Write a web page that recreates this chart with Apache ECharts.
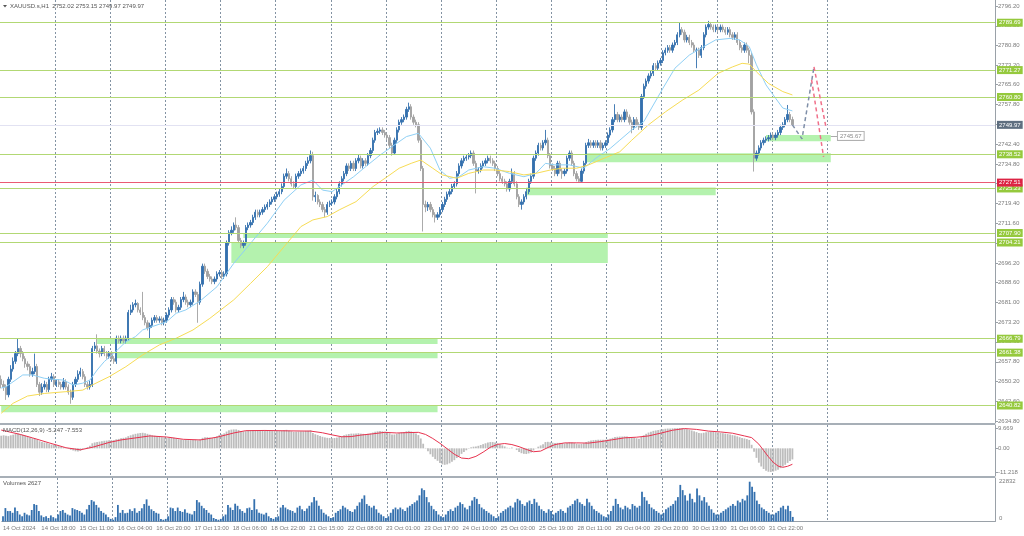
<!DOCTYPE html>
<html><head><meta charset="utf-8">
<script src="https://cdn.jsdelivr.net/npm/echarts@6/dist/echarts.min.js"></script>
<style>html,body{margin:0;padding:0;background:#fff;}#c{width:1024px;height:536px;}</style>
</head><body><div id="c"></div>
<script>
// ---------- DATA ----------
const timeLabels = ['14 Oct 2024','14 Oct 18:00','15 Oct 11:00','16 Oct 04:00','16 Oct 20:00','17 Oct 13:00','18 Oct 06:00','18 Oct 22:00','21 Oct 15:00','22 Oct 08:00','23 Oct 01:00','23 Oct 17:00','24 Oct 10:00','25 Oct 03:00','25 Oct 19:00','28 Oct 11:00','29 Oct 04:00','29 Oct 20:00','30 Oct 13:00','31 Oct 06:00','31 Oct 22:00'];
const priceTicks = [2796.2,2788.5,2780.8,2773.2,2765.6,2757.8,2750.2,2742.4,2734.8,2727.2,2719.4,2711.6,2704.0,2696.2,2688.6,2681.0,2673.2,2665.6,2657.8,2650.2,2642.6,2634.8];
const macdTicks = [9.669, 0, -11.218];
const macdTickText = ['9.669','0.00','-11.218'];
const volTicks = [22832, 0];
// [open, close, low, high]
const ohlc = [
[2651,2649,2647.5,2652.5],[2649,2648,2646.5,2650.5],[2648,2645,2643,2649],[2645,2651,2644,2652],[2651,2655,2650,2656.5],
[2655,2658,2654,2659.5],[2658,2661,2657,2662],[2661,2663,2660,2666.7],[2663,2661,2659.5,2664],[2661,2659,2658,2662],
[2659,2657,2655.5,2660],[2657,2656,2654.5,2658],[2656,2653,2652,2657],[2653,2654,2652,2655.5],[2654,2656,2653,2661],
[2656,2649,2648,2657],[2649,2646,2644.5,2650],[2646,2648,2645,2649.5],[2648,2649,2647,2650.5],[2649,2647,2646,2650],
[2647,2651,2646,2652],[2651,2652,2650,2653.5],[2652,2649,2648,2653],[2649,2650,2648,2651],[2650,2649,2648,2651],
[2649,2648,2647,2650],[2648,2650,2647,2651.5],[2650,2648,2647,2651],[2648,2646,2645,2649],[2646,2644,2641.5,2647],
[2644,2649,2643,2650],[2649,2651,2648,2652],[2651,2653,2650,2654.5],[2653,2654,2652,2655.5],[2654,2652,2651,2655],
[2652,2649,2648,2653],[2649,2648,2647,2650],[2648,2649,2647,2650.5],[2649,2663,2648,2664],[2663,2664,2662,2665.5],
[2664,2662,2661,2668.5],[2662,2661,2659.5,2663],[2661,2663,2660,2664],[2663,2661,2660,2664],[2661,2660,2659,2662],
[2660,2661,2659,2662],[2661,2659,2658,2662],[2659,2658,2657,2660],[2658,2667,2657,2668],[2667,2666,2665,2668],
[2666,2667,2665,2668],[2667,2666,2665,2668],[2666,2667,2665,2668],[2667,2677,2666,2678],[2677,2678,2676,2680],
[2678,2680,2677,2681],[2680,2680.5,2679,2682],[2680.5,2678,2677,2681],[2678,2677,2676,2679],[2677,2675,2674,2685],
[2675,2673,2672,2676],[2673,2671,2670,2674],[2671,2672,2666.7,2673],[2672,2674,2671,2675],[2674,2675,2673,2676],
[2675,2674,2673,2676],[2674,2674.5,2673,2675.5],[2674.5,2673,2672,2675.5],[2673,2674,2672,2675],[2674,2676,2673,2677],
[2676,2678,2675,2679],[2678,2682,2677,2683],[2682,2681,2680,2683],[2681,2678,2677,2682],[2678,2679,2677,2680],
[2679,2682,2678,2683],[2682,2683,2681,2685],[2683,2681,2680,2684],[2681,2680,2679,2682],[2680,2681,2679,2682],
[2681,2685,2680,2686],[2685,2684,2683,2686],[2684,2681,2673,2685],[2681,2688,2680,2689],[2688,2695,2687,2696],
[2695,2693,2692,2696],[2693,2691,2690,2694],[2691,2690,2689,2692],[2690,2689,2688,2691],[2689,2690,2688,2691],
[2690,2692,2689,2693],[2692,2692.5,2691,2693.5],[2692.5,2691,2690,2693.5],[2691,2692,2690,2693],[2692,2704,2691,2705],
[2704,2708,2703,2709],[2708,2709,2707,2710.5],[2709,2711,2708,2712],[2711,2710,2709,2714],[2710,2705,2704,2711],
[2705,2703,2702,2706],[2703,2704,2702,2705],[2704,2710,2703,2711],[2710,2711,2709,2712],[2711,2712,2710,2713],
[2712,2714,2711,2715],[2714,2716,2713,2717],[2716,2715,2714,2717],[2715,2716,2714,2717],[2716,2717,2715,2718],
[2717,2718,2716,2719],[2718,2719,2717,2720],[2719,2720,2718,2721],[2720,2721,2719,2722],[2721,2722,2720,2723],
[2722,2723,2721,2724],[2723,2724,2722,2725],[2724,2726,2723,2727.2],[2726,2730,2725,2731],[2730,2731,2729,2733],
[2731,2729,2728,2732],[2729,2727,2726,2730],[2727,2726,2725,2728],[2726,2730,2725,2731],[2730,2731,2729,2732],
[2731,2732,2730,2733],[2732,2733,2731,2734],[2733,2735,2732,2736],[2735,2736,2734,2737.5],[2736,2738,2735,2740],
[2738,2722,2720.5,2739.5],[2722,2722.5,2720,2724],[2722.5,2720,2719,2723],[2720,2719,2718,2721],[2719,2717,2716,2720],
[2717,2716,2714,2718],[2716,2719,2715,2720],[2719,2719.5,2718,2720.5],[2719.5,2720,2718.5,2721],[2720,2722,2719,2723],
[2722,2724,2721,2725],[2724,2727,2723,2728],[2727,2729,2726,2730],[2729,2731,2728,2732],[2731,2734,2730,2735],
[2734,2733,2732,2735],[2733,2735,2732,2736],[2735,2733,2732,2736],[2733,2736,2732,2737],[2736,2737,2735,2738.5],
[2737,2734,2733,2738],[2734,2736,2733,2737],[2736,2735,2734,2737],[2735,2738,2734,2739],[2738,2740,2737,2741],
[2740,2744,2739,2745],[2744,2747,2743,2748],[2747,2747.5,2746,2748.6],[2747.5,2748,2746.5,2749],[2748,2747,2746,2749],
[2747,2746,2745,2748],[2746,2745,2744,2747],[2745,2742,2741,2746],[2742,2739,2738,2743],[2739,2744,2738.5,2745],
[2744,2748,2743,2749],[2748,2751,2747,2752],[2751,2752,2750,2753],[2752,2753,2751,2754],[2753,2756,2752,2757],
[2756,2757,2755,2758.6],[2757,2753,2752,2758],[2753,2751,2750,2754],[2751,2750,2749,2752],[2750,2744,2743,2751],
[2744,2733,2732,2745],[2733,2719,2708.5,2734],[2719,2718,2716,2720.5],[2718,2719,2716.5,2720],[2719,2717,2716,2720],
[2717,2715,2714,2718],[2715,2714,2712,2716],[2714,2715,2713,2716],[2715,2717,2714,2718],[2717,2719,2716,2720],
[2719,2721,2718,2722],[2721,2723,2720,2724],[2723,2724,2722,2725],[2724,2726,2723,2727],[2726,2727,2725,2728],
[2727,2731,2726,2732],[2731,2734,2730,2735],[2734,2736,2733,2737],[2736,2737,2735,2738],[2737,2737.5,2736,2738.5],
[2737.5,2738,2736.5,2739],[2738,2739,2737,2740],[2739,2735,2734,2740],[2735,2732,2723.3,2736],[2732,2732.5,2731,2733.5],
[2732.5,2734,2731.5,2735],[2734,2735,2733,2736],[2735,2736,2734,2737],[2736,2737,2735,2738],[2737,2736,2735,2738],
[2736,2735,2734,2737],[2735,2733,2732,2736],[2733,2731,2730,2734],[2731,2729,2728,2732],[2729,2728,2727,2730],
[2728,2727,2726,2729],[2727,2725,2724,2728],[2725,2728,2724,2729],[2728,2731,2727,2733],[2731,2727,2726,2732],
[2727,2722,2721,2728],[2722,2719,2718,2723],[2719,2720,2717,2721],[2720,2722,2719,2723],[2722,2724,2721,2725],
[2724,2728,2723,2729],[2728,2730,2727,2731],[2730,2737,2729,2738],[2737,2739,2736,2740],[2739,2742,2738,2743],
[2742,2741,2740,2743],[2741,2743,2740,2744],[2743,2744,2742,2748],[2744,2738,2737,2745],[2738,2734,2733,2739],
[2734,2733,2732,2735],[2733,2731,2730,2734],[2731,2735,2730,2736],[2735,2732,2731,2736],[2732,2731,2729,2733],
[2731,2732,2730,2733],[2732,2737,2731,2738],[2737,2739,2736,2740],[2739,2735,2734,2740],[2735,2731,2730,2736],
[2731,2729,2728,2732],[2729,2728,2727.5,2730],[2728,2732,2727.5,2733],[2732,2735,2731,2736],[2735,2742,2734,2743],
[2742,2743,2741,2744.5],[2743,2742,2741,2744],[2742,2743,2741,2744],[2743,2742,2741,2744],[2742,2743,2741,2744],
[2743,2741,2740,2744],[2741,2742,2740,2743],[2742,2743,2741,2744],[2743,2746,2742,2747],[2746,2748,2745,2749],
[2748,2752,2747,2753],[2752,2754,2751,2758],[2754,2752,2751,2755],[2752,2753,2751,2754],[2753,2752,2751,2754],
[2752,2755,2751,2756],[2755,2753,2752,2756],[2753,2751,2750,2754],[2751,2749,2746.7,2752],[2749,2752,2748,2753],
[2752,2750,2749,2753],[2750,2749,2748,2751],[2749,2761,2748,2762],[2761,2765,2760,2766],[2765,2767,2764,2768],
[2767,2769,2766,2770],[2769,2770,2768,2771],[2770,2773,2769,2774],[2773,2772,2771,2774],[2772,2774,2771,2775],
[2774,2775,2773,2776],[2775,2778,2774,2779],[2778,2779,2777,2780],[2779,2780,2778,2781],[2780,2779,2778,2781],
[2779,2781,2778,2782],[2781,2782,2780,2783],[2782,2785,2781,2786],[2785,2787,2784,2789.8],[2787,2786,2785,2788],
[2786,2783,2782,2787],[2783,2784,2782,2785],[2784,2782,2781,2785],[2782,2781,2780,2783],[2781,2779,2778,2782],
[2779,2779,2772,2780],[2779,2777,2776,2780],[2777,2780,2776,2781],[2780,2785,2779,2786],[2785,2788,2784,2789],
[2788,2789,2787,2790.4],[2789,2788,2787,2790],[2788,2787,2786,2789],[2787,2788,2786,2789],[2788,2787,2786,2789],
[2787,2788,2786,2789],[2788,2787,2786,2789],[2787,2786,2785,2788],[2786,2787,2785,2788],[2787,2785,2784,2788],
[2785,2784,2783,2786],[2784,2785,2783,2786],[2785,2782,2781,2786],[2782,2780,2779,2783],[2780,2779,2778,2781],
[2779,2781,2778,2782],[2781,2779,2778,2782],[2779,2777,2774,2780],[2777,2755,2754,2778],[2755,2737,2731.8,2756],
[2737,2739,2736,2740],[2739,2741,2738,2742],[2741,2743,2740,2744],[2743,2744,2742,2745],[2744,2744.5,2743,2745.5],
[2744.5,2745,2743.5,2746],[2745,2746,2744,2747],[2746,2745,2744,2747],[2745,2746,2744,2747],[2746,2747,2745,2748],
[2747,2749,2746,2750],[2749,2750,2748,2751],[2750,2752,2749,2753],[2752,2754,2751,2757.7],[2754,2752.02,2751,2755],
[2752.02,2749.97,2749.97,2753.15]
];
const volumes = [
3000,7700,6000,6000,5000,8100,6000,4000,3000,5000,4000,3500,6600,10000,9500,6000,3500,2500,3000,2000,3500,2500,1800,
4000,6000,6600,5000,4000,3500,7700,7000,6600,6000,5000,4000,7000,9500,12300,11500,9500,8000,6000,5000,4000,2500,1500,
1000,2500,9500,5000,6600,4700,5000,7000,6000,7600,5000,6000,7600,10000,12700,9000,7000,6000,5000,4500,1500,1000,1500,
3000,8000,7600,6000,8000,6000,5500,7000,5000,4500,4000,6000,12300,11000,9000,7600,6600,5000,4000,2000,1500,1000,1500,
3000,4000,9500,8000,6600,10200,9000,7000,6000,5000,7600,8000,6600,12800,7000,5000,4500,4000,5000,3000,2000,1500,2500,
3000,8000,9500,8000,7000,6500,6000,5000,8000,9000,7000,6000,7500,9000,11000,14000,12000,9000,7000,5000,4000,3000,2000,
2500,5000,6000,7000,9000,8000,7000,6000,5500,7000,9000,11000,13000,15000,10000,9000,8000,9000,7000,5000,4000,3000,2000,
3000,5000,7000,8000,7000,8000,7000,6000,8000,9000,10000,11000,12000,15000,19000,18000,14000,11000,9000,7000,6000,4000,3000,
2500,4000,6000,7000,6000,8000,9000,11000,10000,8000,7000,9000,12000,14000,13000,10000,8000,7000,6000,5000,4000,3000,2000,
3000,5000,6000,7000,8000,9000,8000,11000,13000,12000,10000,9000,11000,12000,10000,13000,11000,9000,7000,6000,5000,7000,6000,
4000,5000,6000,7000,6000,5000,8000,9000,10000,12000,13000,11000,10000,9000,13000,11000,9000,7000,6000,5000,4000,3000,2500,
4000,6000,9000,13000,10000,8000,7000,9000,8000,7000,10000,9000,8000,9000,17000,14000,12000,10000,8000,7000,6000,5000,4000,
5000,7000,8000,9000,10000,12000,14000,21000,18000,15000,12000,16000,13000,11000,19000,15000,12000,14000,11000,9000,7000,5000,4000,
4000,5000,6000,7000,8000,9000,10000,9000,12000,11000,13000,12000,15000,22832,20000,17000,12000,10000,8000,7000,6000,5000,4000,
4000,5000,6000,8000,9000,7000,9000,6000,2627
];
const macdHist = [
6.0,6.2,6.0,5.8, 6.2,6.5,6.8,7.0,6.8,6.4,6.0,5.6,5.2, 4.8,4.6,4.0,3.4,3.0,2.8,2.6,2.2,
1.8,1.6,1.3,1.0,0.8,0.5,0.2, -0.3,-0.7,-1.0,-1.4,-1.5,-1.2, -0.3,0.2,0.6,1.2, 2.4,2.8,3.0,3.2,
3.4,3.6,3.7,3.8,3.9,3.9,4.3, 4.5,4.8,5.0,5.2,5.8,6.2,6.6, 6.9,7.1,7.3,7.4,7.2,6.9, 6.5,6.2,6.0,5.8,5.5,
5.3,5.2,5.0,5.0,5.1,5.0,4.6,4.3,4.2, 4.1,4.0,3.9,3.9,4.0,4.1,3.8,4.3, 5.0,5.3,5.3,5.1,4.9,5.2,5.8,
6.4,6.7,7.1,8.0,8.6,8.9,9.0, 9.0,8.7,8.3,8.0,8.2,8.4,8.6,8.7,
8.6,8.6,8.5,8.4,8.4,8.3,8.3,8.2,8.2,8.2,8.2,8.3,8.6,8.8,8.5,8.1,7.8,7.9,8.0,8.1,8.1,8.3,8.4,8.6,
7.3,6.7,6.3,5.9,5.5,5.2,5.0,4.9,4.8,4.9,5.1,
5.4,5.8,6.2,6.6,6.8,7.0,7.0,7.1,7.2,7.0,6.9,6.8,6.9,7.1,7.5,7.9,8.1,8.2,8.1,7.9,
7.6,7.2,6.6,6.6,6.9,7.3,7.6,7.8,8.1,8.3,8.0,7.6,7.1,6.3,4.7,
2.2,0.2,-1.4,-2.8,-4.0,-5.1,-5.9,
-7.0,-7.6,-7.8,-7.6,-7.1,-6.4,-5.6,-4.6,-3.6,-2.6,-1.7,-0.9,-0.2,
0.5,0.8,0.9,1.2,1.6,2.0,2.4,2.8,3.0,3.0,2.8,2.4,1.9,1.4,0.9,0.3,0.2,
0.4,0.0,-0.8,-1.7,-2.3,-2.6,-2.7,-2.4,-2.0,-1.0,-0.1,0.8,1.4,2.0,
3.0,3.1,2.9,2.7,2.5,2.6,2.6,2.5,2.4,2.6,2.9,2.8,2.5,2.2,2.0,2.1,2.4,3.0,3.4,
3.7,3.9,4.0,4.1,4.1,4.1,4.1,4.3,4.6,5.0,5.4,5.5,5.6,5.6,5.7,5.6,5.4,5.1,5.0,4.8,4.6,
5.4,6.2,6.9,7.5,7.9,8.3,8.5,8.7,8.9,9.1,9.3,9.4,9.4,9.5,9.5,9.6,9.669,9.6,9.3,9.1,8.8,8.5,8.1,7.7,
7.3,7.2,7.4,7.7,7.9,7.9,7.8,7.7,7.5,7.4,7.2,7.0,6.8,6.6,6.3,6.1,5.7,5.3,4.9,4.7,4.4,4.0,
1.7,-1.6,-4.5,-6.8,-8.6,-9.8,-10.6,-11.1,-11.218,-11.0,-10.6,-10.1,-9.4,-8.6,-7.8,-6.9,-6.0,-5.247
];
// [bar index, value]
const macdSignal = [[0,8.7],[8,6.6],[13,5.0],[20,2.6],[27,0.3],[33,-0.7],[38,0.5],[45,2.8],[50,4.0],[55,4.8],[62,5.9],[69,5.4],[76,4.3],[83,4.0],[90,5.3],[97,7.3],[102,8.4],[110,8.5],[120,8.3],[129,8.2],[134,7.4],[138,6.4],[142,5.5],[146,5.6],[150,6.3],[155,6.9],[160,7.6],[165,7.3],[170,7.5],[174,7.6],[177,6.6],[180,4.7],[183,2.4],[186,-0.2],[189,-2.8],[192,-4.6],[195,-4.9],[198,-3.8],[201,-1.8],[204,0.5],[207,1.9],[210,2.3],[213,1.8],[216,0.8],[219,-0.5],[222,-1.6],[225,-1.3],[228,0.4],[231,1.8],[235,2.6],[240,2.6],[245,2.5],[250,3.2],[255,4.1],[260,5.0],[265,5.3],[270,5.9],[275,7.2],[280,8.6],[285,9.4],[290,9.0],[295,8.2],[300,7.8],[305,7.2],[310,5.9],[313,5.1],[316,2.0],[318,-1.0],[320,-4.0],[322,-6.6],[324,-8.4],[326,-9.0],[328,-8.5],[330,-7.553]];
const maFast = [[0,2647.6],[2,2648.1],[9,2652.7],[13,2652.7],[18,2651.4],[22,2651.0],[26,2650.7],[30,2648.8],[34,2649.5],[37,2650.7],[40,2654.6],[43,2657.9],[47,2661.1],[52,2665.6],[56,2667.6],[59,2670.2],[63,2671.5],[69,2673.4],[73,2676.7],[77,2678.0],[83,2681.5],[90,2687.0],[97,2696.1],[104,2703.9],[111,2711.7],[118,2720.7],[125,2726.6],[130,2728.5],[134,2724.6],[138,2724.0],[143,2727.2],[147,2729.8],[152,2733.7],[158,2738.2],[163,2741.5],[169,2745.4],[174,2746.7],[179,2740.9],[183,2732.4],[187,2729.2],[191,2729.8],[195,2732.4],[201,2733.7],[206,2733.1],[212,2731.1],[218,2729.8],[223,2731.1],[227,2735.0],[231,2734.4],[237,2734.4],[243,2733.1],[248,2737.0],[254,2740.8],[258,2744.0],[263,2748.0],[268,2751.2],[272,2757.7],[276,2764.2],[281,2772.0],[287,2777.1],[293,2780.4],[298,2783.0],[304,2783.6],[308,2783.0],[312,2780.4],[315,2773.3],[319,2765.5],[323,2760.3],[326,2756.5],[330,2755.4]];
const maSlow = [[0,2637.8],[5,2641.7],[11,2644.5],[18,2645.5],[27,2646.2],[34,2646.8],[38,2648.8],[45,2652.0],[52,2655.9],[59,2660.5],[66,2664.4],[73,2667.0],[80,2670.2],[87,2674.7],[97,2681.9],[104,2688.3],[111,2694.8],[118,2702.6],[125,2710.4],[130,2713.0],[136,2714.3],[141,2716.9],[148,2720.1],[155,2725.9],[161,2729.8],[166,2733.1],[171,2735.0],[175,2736.3],[180,2733.1],[184,2730.5],[190,2729.2],[195,2731.1],[201,2732.4],[206,2732.4],[212,2731.8],[218,2730.5],[223,2731.1],[229,2732.4],[234,2733.1],[240,2733.1],[245,2734.4],[251,2736.8],[258,2739.5],[263,2744.0],[270,2750.0],[277,2755.0],[284,2759.5],[291,2763.5],[299,2770.0],[305,2772.5],[309,2773.9],[312,2773.6],[315,2770.6],[320,2766.1],[326,2762.9],[330,2761.6]];
const greenLevels = [2789.69, 2771.27, 2760.80, 2738.52, 2725.23, 2707.90, 2704.21, 2666.79, 2661.38, 2640.82];
const redLevel = 2727.51;
const bidPrice = 2749.97;
// [from bar, to bar, low price, high price]
const zones = [[219,298,2722.6,2725.6],[244,346,2735.4,2738.9],[319,346,2743.6,2746.0],[101,253,2706.0,2707.9],[96,253,2696.2,2704.2],[40,182,2664.7,2666.8],[48,182,2659.2,2661.4],[0,182,2638.2,2640.8]];
const zoneTag = {from:346, to:349, price:2745.67};
const forecastPath = [[330,2749.97],[334,2744.5],[339,2772.5]];
const redArrowA = [[339,2772.5],[344,2749.1]];
const redArrowB = [[338,2767.5],[343,2737.5]];
const headerText = 'XAUUSD.s,H1  2752.02 2753.15 2749.97 2749.97';
const macdText = 'MACD(12,26,9) -5.247 -7.553';
const volText = 'Volumes 2627';

// ---------- CHART ----------
const FONT = '"Liberation Sans",Arial,sans-serif';
const FS = 6;
const N = 415;
const cats = Array.from({length:N}, (_, i) => String(i));
const AX = '#9aa1a8', LBL = '#7c7c7c';
function xAx(gi, labels){
  return {type:'category', gridIndex:gi, data:cats, boundaryGap:true,
    axisLine:{show:labels, lineStyle:{color:AX}}, axisTick:{show:false},
    axisLabel: labels ? {show:true, interval:0, hideOverlap:false,
      formatter:(v)=>{ const k = Number(v); return (k % 16 === 0 && timeLabels[k/16]) ? timeLabels[k/16] : ''; },
      align:'left', fontSize:FS, color:LBL, fontFamily:FONT, margin:4} : {show:false},
    splitLine:{show:true, interval:(i)=> i>0 && i%23===0 && i<350, lineStyle:{color:'#8393a3', type:[2,2], width:1}}
  };
}
const lvl = (v, line, bg) => ({yAxis:v, lineStyle:{color:line, width:1, type:'solid'},
  label:{show:true, position:'end', distance:2, formatter:(p)=>Number(p.value).toFixed(2), backgroundColor:bg, color:'#fff',
    fontSize:FS, fontFamily:FONT, padding:[1,2,1,2]}});
const chart = echarts.init(document.getElementById('c'), null, {renderer:'canvas'});
chart.setOption({
  animation:false, backgroundColor:'#fff',
  grid:[{left:0, right:29, top:0, height:423},{left:0, right:29, top:425, height:51},{left:0, right:29, top:478, height:43.5}],
  xAxis:[xAx(0,false), xAx(1,false), xAx(2,true)],
  yAxis:[
    {type:'value', gridIndex:0, position:'right', min:2634.01, max:2798.53, splitLine:{show:false},
     axisLine:{show:true, lineStyle:{color:AX}}, axisTick:{show:true, customValues:priceTicks, length:3, lineStyle:{color:AX}},
     axisLabel:{customValues:priceTicks, formatter:(v)=>v.toFixed(2), fontSize:FS, color:LBL, fontFamily:FONT, margin:3}},
    {type:'value', gridIndex:1, position:'right', min:-13.12, max:11.09, splitLine:{show:false},
     axisLine:{show:true, lineStyle:{color:AX}}, axisTick:{show:true, customValues:macdTicks, length:3, lineStyle:{color:AX}},
     axisLabel:{customValues:macdTicks, formatter:(v)=>macdTickText[macdTicks.indexOf(v)], fontSize:FS, color:LBL, fontFamily:FONT, margin:3}},
    {type:'value', gridIndex:2, position:'right', min:0, max:24955, splitLine:{show:false},
     axisLine:{show:true, lineStyle:{color:AX}}, axisTick:{show:false},
     axisLabel:{customValues:volTicks, formatter:(v)=> v===0 ? '{z|0}' : String(v), fontSize:FS, color:LBL, fontFamily:FONT, margin:4,
       rich:{z:{fontSize:FS, color:LBL, fontFamily:FONT, padding:[0,0,6,0]}}}}
  ],
  graphic:[
    {type:'rect', shape:{x:0, y:423, width:995, height:2}, style:{fill:'#a7afb7'}, z:10},
    {type:'rect', shape:{x:0, y:476, width:995, height:2}, style:{fill:'#a7afb7'}, z:10},
    {type:'polygon', shape:{points:[[3,5],[7,5],[5,7.5]]}, style:{fill:'#555'}, z:10},
    {type:'text', left:10, top:3, style:{text:headerText, fontSize:FS, fontFamily:FONT, fill:'#555'}, z:10},
    {type:'text', left:3, top:427, style:{text:macdText, fontSize:FS, fontFamily:FONT, fill:'#555'}, z:10},
    {type:'text', left:3, top:480, style:{text:volText, fontSize:FS, fontFamily:FONT, fill:'#555'}, z:10}
  ],
  series:[
    {type:'line', xAxisIndex:0, yAxisIndex:0, data:[], z:1, silent:true,
     markArea:{silent:true, itemStyle:{color:'#b4f2ae'}, data: zones.map(z=>[{coord:[z[0], z[3]]},{coord:[z[1], z[2]]}])}},
    {type:'line', xAxisIndex:0, yAxisIndex:0, data:[], z:2, silent:true,
     markLine:{symbol:'none', silent:true, animation:false,
       data: greenLevels.map(v=>lvl(v,'#b2d874','#95c93d')).concat([lvl(redLevel,'#ea5a73','#dc2444'), lvl(bidPrice,'#e2e2f2','#5f6f80')])}},
    {type:'candlestick', xAxisIndex:0, yAxisIndex:0, data:ohlc, barWidth:1.8, z:3, silent:true,
     itemStyle:{color:'#3470ae', color0:'#a2a2a2', borderColor:'#3470ae', borderColor0:'#a2a2a2', borderWidth:0.9}},
    {type:'line', xAxisIndex:0, yAxisIndex:0, data:maFast, showSymbol:false, z:4, silent:true, lineStyle:{color:'#8fd0f5', width:1}},
    {type:'line', xAxisIndex:0, yAxisIndex:0, data:maSlow, showSymbol:false, z:4, silent:true, lineStyle:{color:'#f7dc55', width:1}},
    {type:'line', xAxisIndex:0, yAxisIndex:0, data:forecastPath, showSymbol:false, z:5, silent:true, lineStyle:{color:'#7f8fa8', width:1.5, type:[4,3]}},
    {type:'line', xAxisIndex:0, yAxisIndex:0, data:redArrowA, showSymbol:false, z:5, silent:true, lineStyle:{color:'#f0708a', width:1.5, type:[4,3]}},
    {type:'line', xAxisIndex:0, yAxisIndex:0, data:redArrowB, showSymbol:false, z:5, silent:true, lineStyle:{color:'#f0708a', width:1.5, type:[4,3]}},
    {type:'line', xAxisIndex:0, yAxisIndex:0, data:[], z:5, silent:true,
     markLine:{symbol:'none', silent:true, data:[[{coord:[zoneTag.from, zoneTag.price], lineStyle:{color:'#aaaaaa', width:1, type:'solid'},
       label:{show:true, position:'end', distance:0, formatter:()=>zoneTag.price.toFixed(2), color:'#8a8a8a', fontSize:FS, fontFamily:FONT,
         backgroundColor:'#fff', borderColor:'#b0b0b0', borderWidth:1, padding:[1,2,1,2]}},
       {coord:[zoneTag.to, zoneTag.price]}]]}},
    {type:'bar', xAxisIndex:1, yAxisIndex:1, data:macdHist, barWidth:1.8, silent:true, itemStyle:{color:'#bdbdbd'}},
    {type:'line', xAxisIndex:1, yAxisIndex:1, data:macdSignal, showSymbol:false, silent:true, z:4, lineStyle:{color:'#e8334f', width:1}},
    {type:'bar', xAxisIndex:2, yAxisIndex:2, data:volumes, barWidth:1.8, silent:true, itemStyle:{color:'#3470ae'}}
  ]
});
</script></body></html>
